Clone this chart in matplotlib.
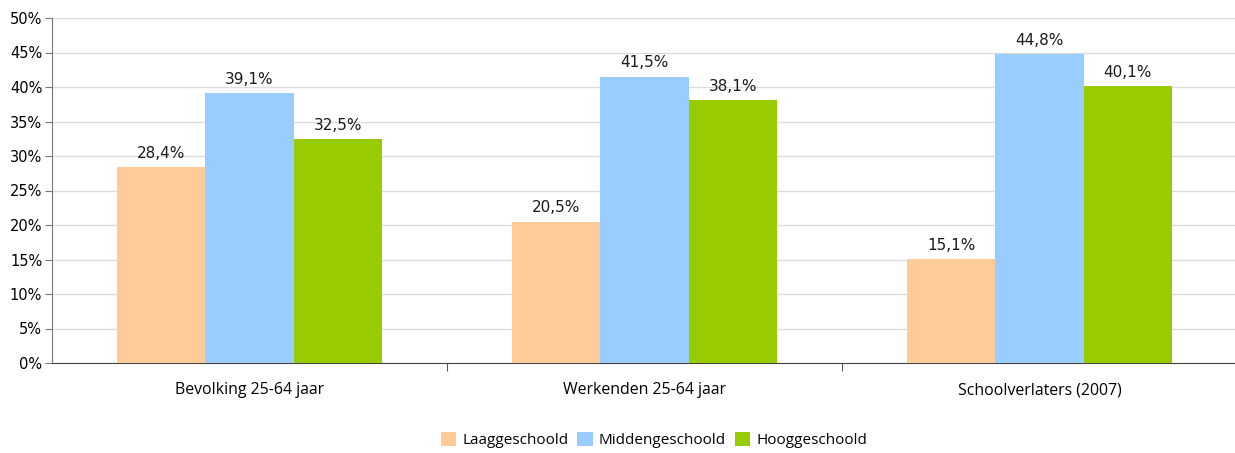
import numpy as np
import matplotlib.pyplot as plt

# Data
categories = ["Bevolking 25-64 jaar", "Werkenden 25-64 jaar", "Schoolverlaters (2007)"]
series = ["Laaggeschoold", "Middengeschoold", "Hooggeschoold"]
laag = [28.4, 20.5, 15.1]
midden = [39.1, 41.5, 44.8]
hoog = [32.5, 38.1, 40.1]
colors = ["#FFCC99", "#99CCFF", "#99CC00"]

W, H = 1235, 453
fig = plt.figure(figsize=(W / 100, H / 100), dpi=100)
ax = fig.add_axes([52 / W, 90 / H, 1185 / W, 345 / H])

x = np.arange(len(categories))
bw = 0.223
for i, (vals, name, col) in enumerate(zip([laag, midden, hoog], series, colors)):
    pos = x + (i - 1) * bw
    ax.bar(pos, vals, width=bw, color=col, label=name, zorder=3)
    for p, v in zip(pos, vals):
        ax.text(p, v + 0.9, f"{v:.1f}%".replace(".", ","), ha="center", va="bottom",
                fontsize=11, color="#1a1a1a", family="DejaVu Sans")

ax.set_xlim(-0.5, 2.5)
ax.set_ylim(0, 50)
ax.set_yticks(np.arange(0, 51, 5))
ax.set_yticklabels([f"{t}%" for t in range(0, 51, 5)], fontsize=10.5, family="DejaVu Sans")
ax.yaxis.grid(True, color="#DDDDDD", linewidth=1, zorder=0)
ax.tick_params(axis="y", length=5, color="#777777", pad=2)

ax.set_xticks([0.5, 1.5])
ax.set_xticklabels([])
ax.set_xticks(x, minor=True)
ax.set_xticklabels(categories, minor=True, fontsize=11.4, family="Open Sans")
ax.tick_params(axis="x", which="major", length=6, color="#555555")
ax.tick_params(axis="x", which="minor", length=0, pad=14)

for s in ["top", "right"]:
    ax.spines[s].set_visible(False)
ax.spines["left"].set_color("#777777")
ax.spines["bottom"].set_color("#444444")

fig.legend(loc="center", bbox_to_anchor=(654 / W, 1 - 440 / H), ncol=3, frameon=False,
           prop={"family": "Open Sans", "size": 11}, handlelength=1.0, handleheight=1.0,
           handletextpad=0.4, columnspacing=0.6)

fig.savefig("out.png", dpi=100)
